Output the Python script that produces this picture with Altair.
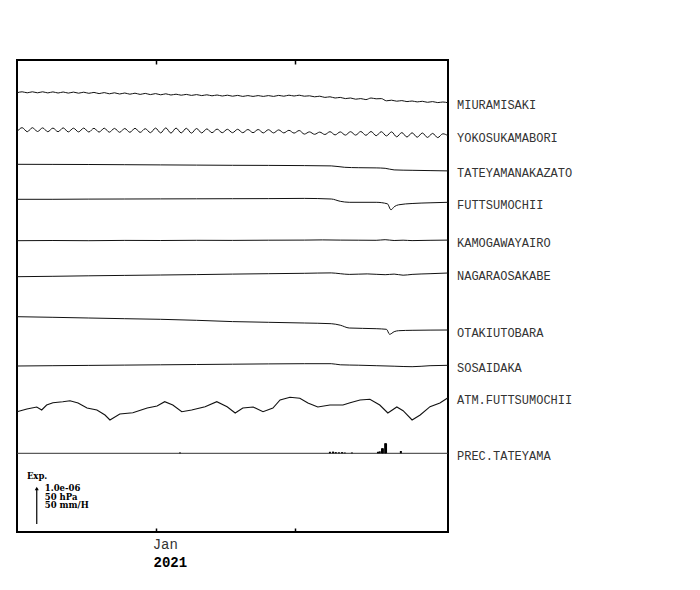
import altair as alt
import pandas as pd

stations = ["MIURAMISAKI", "YOKOSUKAMABORI", "TATEYAMANAKAZATO", "FUTTSUMOCHII",
            "KAMOGAWAYAIRO", "NAGARAOSAKABE", "OTAKIUTOBARA", "SOSAIDAKA",
            "ATM.FUTTSUMOCHII", "PREC.TATEYAMA"]
# baseline of each trace (trace units, 37.3 units = 1.0e-06 / 50 hPa / 50 mm/H)
offsets = [440.0, 402.3, 367.7, 332.7, 291.3, 255.3, 215.3, 166.0, 120.3, 78.7]

# regular sampling (days since 2020-12-01)
fine_days = [round(i * 96 / 84, 3) for i in range(85)]

miura = [-0.8, 0.2, -0.8, 0.2, -0.8, 0.2, -0.9, 0.1, -1.0, 0.0, -1.1, -0.1, -1.2, -0.2,
         -1.3, -0.4, -1.6, -0.6, -1.8, -0.8, -2.0, -1.0, -2.2, -1.2, -2.4, -1.4, -2.6,
         -1.6, -2.8, -1.8, -3.0, -2.2, -3.2, -2.4, -3.4, -2.6, -3.6, -2.8, -3.8, -3.0,
         -4.0, -3.2, -4.2, -3.4, -4.4, -3.6, -4.4, -3.6, -4.4, -3.6, -4.4, -3.4, -4.2,
         -3.2, -4.0, -3.2, -4.2, -3.8, -4.8, -4.2, -5.4, -4.8, -6.0, -5.4, -6.6, -6.0,
         -7.2, -6.6, -7.6, -6.0, -6.8, -6.6, -8.8, -8.2, -9.2, -8.6, -9.6, -9.0, -9.9,
         -9.3, -10.3, -9.6, -10.6, -10.0, -10.8]

yokosuka = [-2.0, 2.0, -2.0, 2.0, -1.8, 1.8, -2.0, 1.6, -2.0, 1.8, -2.2, 1.5, -2.2, 1.6,
            -2.3, 1.4, -2.4, 1.5, -2.5, 1.3, -2.6, 1.2, -2.6, 1.4, -2.7, 1.0, -3.0, 1.6,
            -3.2, 1.8, -3.4, 1.6, -3.2, 1.4, -3.4, 1.2, -3.2, 0.8, -3.0, 0.6, -3.0, 0.4,
            -3.0, 0.4, -3.0, 0.2, -3.0, 0.2, -3.2, 0.0, -3.2, -0.2, -3.2, -0.6, -3.4,
            -0.8, -4.4, -2.2, -4.6, -2.4, -4.8, -2.0, -5.2, -2.2, -5.4, -2.0, -5.4, -1.8,
            -5.6, -1.8, -6.0, -2.0, -6.2, -2.2, -7.1, -2.9, -7.3, -3.1, -7.5, -3.3, -7.7,
            -3.7, -7.9, -4.1, -6.0]

tate_days = [0, 8, 16, 24, 32, 40, 48, 56, 64, 70, 73, 76, 80, 82, 84, 88, 92, 96]
tate = [0, -0.1, -0.2, -0.4, -0.6, -0.8, -1.0, -1.1, -1.3, -1.6, -3.0, -3.4, -3.6,
        -4.0, -5.6, -6.0, -6.3, -6.6]

futtsu_days = [0, 8, 16, 24, 32, 40, 48, 56, 64, 70, 72, 74, 80, 82.5, 83.3, 84, 85,
               88, 92, 96]
futtsu = [0, 0, 0.2, 0.3, 0.4, 0.5, 0.6, 0.7, 0.9, 0.3, -2.0, -3.0, -3.0, -4.5, -10.5,
          -7.5, -5.5, -4.2, -3.5, -3.0]

kamo_days = [0, 8, 16, 24, 32, 40, 48, 56, 64, 68, 72, 76, 80, 82, 84, 86, 88, 92, 96]
kamo = [0, 0.2, 0, 0.3, 0.2, 0.4, 0.3, 0.5, 0.6, 0.8, 0.6, 0.5, 0.4, 1.0, 0.2, 0.5,
        0.1, 0.4, 0.6]

nagara_days = [0, 8, 16, 24, 32, 40, 48, 56, 64, 70, 72, 74, 78, 82, 84, 86, 88, 92, 96]
nagara = [0, 0.4, 0.9, 1.3, 1.7, 2.1, 2.6, 3.0, 3.4, 3.8, 3.0, 2.3, 2.8, 2.0, 2.6,
          1.5, 2.3, 3.0, 3.7]

otaki_days = [0, 8, 16, 24, 32, 40, 48, 56, 64, 70, 72, 74, 80, 82.3, 83, 84, 85, 88,
              92, 96]
otaki = [0, -0.6, -1.3, -2.0, -2.6, -3.6, -4.9, -5.6, -6.3, -7.0, -8.5, -11.3, -12.0,
         -12.6, -17.6, -15.0, -14.0, -13.6, -13.4, -13.3]

sosai_days = [0, 8, 16, 24, 32, 40, 48, 56, 64, 70, 72, 76, 80, 84, 88, 92, 96]
sosai = [0, 0.3, 0.6, 0.9, 1.2, 1.5, 1.8, 2.1, 2.3, 2.3, 1.2, 0.8, 0.3, -0.2, -0.7,
         0.3, 0.7]

atm_days = [0, 2.2, 4.4, 5.5, 6.6, 8.0, 10.2, 11.8, 13.6, 15.6, 17.8, 19.6, 20.7,
            22.9, 25.8, 29.0, 31.2, 32.9, 34.7, 36.7, 38.9, 41.9, 44.5, 46.8, 48.6,
            50.3, 52.6, 54.8, 57.0, 58.6, 60.8, 63.0, 64.8, 67.0, 69.7, 72.6, 74.2,
            76.4, 78.6, 80.8, 82.6, 84.6, 86.0, 88.0, 89.8, 92.0, 94.2, 96.0]
atm = [0, 2.7, 4.7, 1.7, 6.7, 9.0, 10.0, 11.0, 8.7, 3.7, 1.7, -3.3, -8.3, -2.3, -1.0,
       3.7, 5.7, 10.0, 6.7, 0, 1.7, 5.0, 10.0, 5.0, -1.3, 3.7, 4.7, 0, 3.7, 11.7, 14.4,
       13.4, 8.7, 4.7, 6.7, 6.7, 9.0, 11.7, 12.4, 6.7, -1.3, 4.7, 1.0, -8.3, -3.3, 5.0,
       8.7, 14.0]

prec_days = [36.3, 69.7, 70.4, 71.0, 71.7, 72.4, 73.0, 74.6, 80.4, 80.8, 81.3, 81.5,
             82.0, 82.2, 85.5]
prec = [0.8, 1.5, 1.7, 1.2, 1.0, 1.2, 0.8, 0.8, 1.5, 2.0, 5.0, 5.0, 10.0, 10.0, 2.3]

series = [
    ("MIURAMISAKI", fine_days, miura),
    ("YOKOSUKAMABORI", fine_days, yokosuka),
    ("TATEYAMANAKAZATO", tate_days, tate),
    ("FUTTSUMOCHII", futtsu_days, futtsu),
    ("KAMOGAWAYAIRO", kamo_days, kamo),
    ("NAGARAOSAKABE", nagara_days, nagara),
    ("OTAKIUTOBARA", otaki_days, otaki),
    ("SOSAIDAKA", sosai_days, sosai),
    ("ATM.FUTTSUMOCHII", atm_days, atm),
]

frames = []
label_rows = []
for name, days, rel in series:
    off = offsets[stations.index(name)]
    frames.append(pd.DataFrame({"station": name, "day": days,
                                "value": [off + r for r in rel]}))
    label_rows.append({"station": name, "day": 96, "value": off + rel[-1]})
prec_base = offsets[stations.index("PREC.TATEYAMA")]
label_rows.append({"station": "PREC.TATEYAMA", "day": 96, "value": prec_base})

lines_df = pd.concat(frames, ignore_index=True)
strain_df = lines_df[lines_df["station"] != "ATM.FUTTSUMOCHII"]
atm_df = lines_df[lines_df["station"] == "ATM.FUTTSUMOCHII"]
labels_df = pd.DataFrame(label_rows)
prec_df = pd.DataFrame({"day": prec_days, "base": prec_base,
                        "top": [prec_base + p for p in prec]})

W, H = 431, 472
xscale = alt.Scale(domain=[0, 96], nice=False, zero=False)
yscale = alt.Scale(domain=[0, H], nice=False, zero=False)


def xq(field):
    return alt.X(field, type="quantitative", scale=xscale, axis=None)


def yq(field):
    return alt.Y(field, type="quantitative", scale=yscale, axis=None)


x_bottom = alt.X(
    "day:Q", scale=xscale,
    axis=alt.Axis(orient="bottom", values=[31, 62], tickSize=4, offset=-4,
                  domain=False, grid=False,
                  labelExpr="datum.value == 31 ? 'Jan' : ''",
                  labelFont="Liberation Mono", labelFontSize=14, labelColor="#333",
                  labelAlign="left", labelOffset=-4, labelPadding=5,
                  tickColor="#000", tickWidth=1.5,
                  title="2021", titleFont="Liberation Mono", titleFontSize=14,
                  titleFontWeight="bold", titleColor="#000", titleAlign="left",
                  titleBaseline="top", titleX=136, titleY=27))
x_top = alt.X(
    "day:Q", scale=xscale,
    axis=alt.Axis(orient="top", values=[31, 62], tickSize=4, offset=-4, domain=False,
                  grid=False, labels=False, title=None, tickColor="#000",
                  tickWidth=1.5))

lines = alt.Chart(strain_df).mark_line(
    color="#111", strokeWidth=1, interpolate="monotone").encode(
    x=x_bottom,
    y=yq("value"),
    detail="station:N",
    order="day:Q",
)

atm_line = alt.Chart(atm_df).mark_line(color="#111", strokeWidth=1.1).encode(
    x=xq("day"),
    y=yq("value"),
    order="day:Q",
)

labels = alt.Chart(labels_df).mark_text(
    align="left", baseline="middle", dx=9, dy=2.5, font="Liberation Mono",
    fontSize=12, color="#333").encode(
    x=x_top,
    y=yq("value"),
    text="station:N",
)

prec_line = alt.Chart(pd.DataFrame({"b": [prec_base]})).mark_rule(
    color="#333", strokeWidth=1).encode(y=yq("b"))

prec_bars = alt.Chart(prec_df).mark_rule(color="#000", strokeWidth=2).encode(
    x=xq("day"),
    y=yq("base"),
    y2="top:Q",
)

# scale legend
arrow = alt.Chart(pd.DataFrame({"d": [4.4], "y0": [8.0], "y1": [44.0]})).mark_rule(
    color="#000", strokeWidth=1.2).encode(x=xq("d"), y=yq("y0"), y2="y1:Q")
arrow_head = alt.Chart(pd.DataFrame({"d": [4.4], "y": [43.5]})).mark_point(
    shape="triangle-up", filled=True, size=16, color="#000", opacity=1).encode(
    x=xq("d"), y=yq("y"))

exp_title = alt.Chart(pd.DataFrame({"d": [2.2], "y": [56.0], "t": ["Exp."]})).mark_text(
    align="left", baseline="middle", font="DejaVu Serif", fontWeight="bold",
    fontSize=8.5, color="#000").encode(x=xq("d"), y=yq("y"), text="t:N")

exp_lines = alt.Chart(pd.DataFrame({
    "d": [6.2, 6.2, 6.2], "y": [44.0, 35.5, 27.0],
    "t": ["1.0e-06", "50 hPa", "50 mm/H"]})).mark_text(
    align="left", baseline="middle", font="DejaVu Serif", fontWeight="bold",
    fontSize=8.5, color="#000").encode(x=xq("d"), y=yq("y"), text="t:N")

chart = alt.layer(
    lines, atm_line, labels, prec_line, prec_bars, arrow, arrow_head, exp_title,
    exp_lines
).resolve_axis(x="independent").properties(
    width=W, height=H,
    autosize=alt.AutoSizeParams(type="none"),
    padding={"left": 9, "top": 52, "right": 244, "bottom": 50},
    background="white",
).configure_view(stroke="#000", strokeWidth=2)

chart.save("out.html", embed_options={"renderer": "svg", "actions": False})
